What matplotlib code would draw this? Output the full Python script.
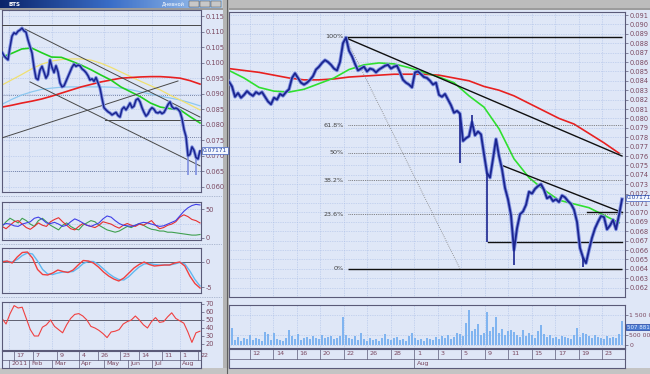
import numpy as np
import matplotlib
matplotlib.use("Agg")
import matplotlib.pyplot as plt
from matplotlib.patches import Rectangle

W, H = 650, 374

# ---------------- data: left window (daily, 2011) ----------------
left_close = [
    0.1034, 0.1022, 0.1015, 0.1009, 0.1050, 0.1085, 0.1096, 0.1092, 0.1101, 0.1105,
    0.1111, 0.1102, 0.1098, 0.1073, 0.1052, 0.1031, 0.0985, 0.0950, 0.0945, 0.0976,
    0.0988, 0.0970, 0.0950, 0.0962, 0.1009, 0.0985, 0.0968, 0.0990, 0.0970, 0.0935,
    0.0922, 0.0925, 0.0940, 0.0955, 0.0970, 0.0985, 0.0995, 0.0988, 0.0992, 0.0990,
    0.0980, 0.0975, 0.0968, 0.0958, 0.0944, 0.0948, 0.0940, 0.0952, 0.0935, 0.0918,
    0.0885, 0.0855, 0.0848, 0.0842, 0.0838, 0.0832, 0.0836, 0.0840, 0.0830, 0.0825,
    0.0850, 0.0857, 0.0848, 0.0858, 0.0870, 0.0855, 0.0860, 0.0880, 0.0884, 0.0874,
    0.0855, 0.0840, 0.0828, 0.0835, 0.0848, 0.0855, 0.0850, 0.0840, 0.0838, 0.0842,
    0.0836, 0.0840, 0.0852, 0.0865, 0.0874, 0.0858, 0.0852, 0.0854, 0.0850, 0.0842,
    0.0820, 0.0785, 0.0762, 0.0700, 0.0705, 0.0729, 0.0718, 0.0695, 0.0690, 0.0717,
]
left_spike_idx = [93, 97]
left_spike_low = [0.0640, 0.0640]
left_ma_green = [0.1018, 0.1030, 0.1044, 0.1047, 0.1032, 0.1018, 0.1017, 0.1005, 0.0992, 0.0977,
                 0.0960, 0.0944, 0.0922, 0.0906, 0.0890, 0.0870, 0.0857, 0.0852, 0.0848, 0.0826, 0.0806]
left_ma_red = [0.0857, 0.0863, 0.0870, 0.0876, 0.0883, 0.0892, 0.0902, 0.0912, 0.0922, 0.0930,
               0.0938, 0.0944, 0.0950, 0.0952, 0.0954, 0.0955, 0.0955, 0.0953, 0.0950, 0.0942, 0.0931]
left_ma_yellow = [0.0928, 0.0945, 0.0962, 0.0980, 0.0995, 0.1005, 0.1010, 0.1012, 0.1012, 0.1008,
                  0.0998, 0.0985, 0.0970, 0.0955, 0.0940, 0.0926, 0.0912, 0.0895, 0.0880, 0.0864, 0.0848]
left_ma_cyan = [0.0866, 0.0882, 0.0896, 0.0906, 0.0914, 0.0918, 0.0921, 0.0922, 0.0922, 0.0922,
                0.0922, 0.0921, 0.0918, 0.0913, 0.0906, 0.0899, 0.0892, 0.0886, 0.0880, 0.0871, 0.0861]
left_yticks = [0.060, 0.065, 0.070, 0.075, 0.080, 0.085, 0.090, 0.095, 0.100, 0.105, 0.110, 0.115]

adx_blue = [22, 25, 24, 21, 20, 24, 26, 28, 34, 36, 32, 26, 25, 27, 24, 20, 22, 28, 33, 30,
            26, 22, 20, 23, 26, 33, 38, 36, 30, 25, 22, 21, 20, 22, 25, 27, 26, 24, 22, 20,
            21, 24, 27, 30, 38, 46, 52, 56, 58, 57]
adx_red = [20, 16, 22, 28, 30, 24, 18, 15, 20, 26, 22, 20, 28, 32, 35, 28, 22, 16, 14, 20,
           25, 22, 20, 18, 22, 28, 26, 24, 20, 17, 22, 25, 22, 20, 24, 22, 26, 30, 22, 16,
           18, 22, 24, 28, 36, 40, 37, 32, 30, 26]
adx_green = [20, 28, 34, 30, 26, 34, 30, 24, 20, 30, 34, 28, 22, 18, 14, 22, 26, 20, 16, 14,
             22, 26, 30, 28, 22, 18, 14, 12, 10, 12, 16, 20, 18, 22, 25, 22, 18, 15, 14, 12,
             12, 10, 10, 9, 8, 7, 6, 5, 5, 6]
macd_red = [0.0, 0.2, -0.2, 1.0, 1.9, 2.0, 0.8, -1.5, -2.5, -2.6, -2.2, -1.6, -1.9, -2.1, -1.6,
            -0.6, 0.3, 0.2, -0.2, -1.0, -2.0, -2.8, -3.4, -3.8, -3.2, -2.2, -1.2, -0.5, 0.0, -0.5,
            -0.8, -0.7, -0.6, -0.6, -0.2, 0.0, -0.8, -2.8, -4.3, -5.2]
macd_blue = [0.2, 0.1, 0.0, 0.5, 1.3, 1.8, 1.6, 0.2, -1.5, -2.4, -2.5, -2.2, -2.0, -2.0, -1.9,
             -1.2, -0.3, 0.1, 0.1, -0.5, -1.4, -2.3, -3.0, -3.5, -3.6, -2.9, -1.9, -1.0, -0.4, -0.3,
             -0.5, -0.6, -0.6, -0.6, -0.4, -0.1, -0.4, -1.8, -3.5, -4.8]
rsi = [52, 45, 58, 68, 65, 66, 52, 38, 30, 30, 41, 44, 50, 42, 38, 34, 44, 52, 57, 58,
       55, 50, 42, 40, 37, 33, 28, 35, 36, 38, 45, 48, 50, 55, 50, 44, 40, 48, 53, 47,
       48, 54, 59, 52, 49, 46, 35, 22, 34, 36]
left_day_labels = ["17", "7", "9", "4", "26", "23", "14", "11", "1", "22"]
left_month_labels = ["2011", "Feb", "Mar", "Apr", "May", "Jun", "Jul", "Aug"]

# ---------------- data: right window (intraday, Jul-Aug) ----------------
right_close = [
    0.0839, 0.0834, 0.0823, 0.0827, 0.0822, 0.0825, 0.0829, 0.0826, 0.0824, 0.0828,
    0.0826, 0.0828, 0.0823, 0.0818, 0.0815, 0.0822, 0.0820, 0.0826, 0.0824, 0.0828,
    0.0831, 0.0843, 0.0848, 0.0843, 0.0838, 0.0836, 0.0838, 0.0841, 0.0845, 0.0852,
    0.0855, 0.0859, 0.0862, 0.0860, 0.0857, 0.0853, 0.0851, 0.0860, 0.0880, 0.0886,
    0.0872, 0.0866, 0.0858, 0.0851, 0.0853, 0.0855, 0.0850, 0.0853, 0.0852, 0.0849,
    0.0852, 0.0854, 0.0856, 0.0857, 0.0853, 0.0855, 0.0856, 0.0849, 0.0841, 0.0838,
    0.0836, 0.0833, 0.0849, 0.0850, 0.0847, 0.0844, 0.0843, 0.0840, 0.0836, 0.0838,
    0.0825, 0.0823, 0.0826, 0.0820, 0.0814, 0.0806, 0.0808, 0.0805, 0.0776, 0.0779,
    0.0781, 0.0796, 0.0782, 0.0786, 0.0783, 0.0762, 0.0742, 0.0737, 0.0757, 0.0778,
    0.0760, 0.0746, 0.0726, 0.0714, 0.0697, 0.0660, 0.0683, 0.0698, 0.0701, 0.0708,
    0.0722, 0.0720, 0.0725, 0.0728, 0.0730, 0.0724, 0.0715, 0.0717, 0.0712, 0.0714,
    0.0711, 0.0718, 0.0716, 0.0712, 0.0709, 0.0703, 0.0690, 0.0662, 0.0652, 0.0646,
    0.0660, 0.0673, 0.0683, 0.0690, 0.0696, 0.0695, 0.0682, 0.0686, 0.0692, 0.0682,
    0.0697, 0.0714,
]
right_spike_idx = [77, 81, 86, 95, 118]
right_spike_val = [0.0753, 0.0804, 0.0669, 0.0644, 0.0642]
right_ma_green = [0.0851, 0.0843, 0.0833, 0.0829, 0.0828, 0.0831, 0.0837, 0.0843, 0.0852, 0.0857,
                  0.0859, 0.0858, 0.0854, 0.0849, 0.0844, 0.0838, 0.0824, 0.0812, 0.0789, 0.0757,
                  0.0737, 0.0724, 0.0713, 0.0709, 0.0705, 0.0697, 0.0689]
right_ma_red = [0.0853, 0.0851, 0.0849, 0.0846, 0.0843, 0.0841, 0.0841, 0.0842, 0.0844, 0.0845,
                0.0846, 0.0847, 0.0847, 0.0847, 0.0846, 0.0843, 0.0840, 0.0834, 0.0830, 0.0824,
                0.0816, 0.0808, 0.0800, 0.0794, 0.0784, 0.0774, 0.0763]
right_volume_k = [
    300, 850, 250, 400, 200, 350, 300, 500, 250, 350,
    300, 200, 650, 550, 250, 600, 300, 250, 200, 350,
    750, 450, 300, 550, 250, 350, 400, 300, 450, 350,
    300, 500, 350, 400, 450, 300, 350, 450, 1400, 500,
    350, 300, 450, 250, 600, 300, 200, 350, 250, 300,
    200, 350, 550, 300, 250, 350, 400, 250, 300, 200,
    450, 600, 350, 250, 300, 200, 350, 300, 250, 400,
    300, 450, 350, 500, 300, 400, 600, 550, 450, 1100,
    1750, 700, 800, 1050, 500, 600, 1650, 700, 900, 1400,
    600, 800, 500, 700, 750, 650, 500, 400, 750, 450,
    600, 500, 350, 700, 1000, 550, 400, 500, 350, 400,
    300, 450, 400, 350, 300, 500, 850, 400, 600, 550,
    450, 350, 500, 400, 350, 300, 450, 350, 400, 350, 550, 1200,
]
right_day_labels = ["12", "14", "16", "20", "22", "26", "28", "1", "3", "5",
                    "9", "11", "15", "17", "19", "23"]
right_month_label = "Aug"
fib_high = 0.0887
fib_low = 0.0640
fib_ratios = [1.0, 0.618, 0.5, 0.382, 0.236, 0.0]
fib_texts = ["100%", "61.8%", "50%", "38.2%", "23.6%", "0%"]
last_price_text = "0.07171"
last_volume_text = "507 881"
vol_tick_vals = [0, 500000, 1500000]
vol_tick_texts = ["0", "500 000", "1 500 000"]

# ---------------- styling ----------------
BG = "#dfe7f7"
FRAME = "#5a5a78"
GRID = "#a9bde6"
LBL = "#7a4860"
PRICE_DARK = "#1b2590"
PRICE_LIGHT = "#7f90e0"

plt.rcParams["font.family"] = ["DejaVu Sans"]
fig = plt.figure(figsize=(W / 100, H / 100), dpi=100)
fig.patch.set_facecolor("#c8c8c8")


def rect_px(x0, y0, x1, y1, color, z=-5, ec="none", lw=0.0):
    fig.add_artist(Rectangle((x0 / W, 1 - y1 / H), (x1 - x0) / W, (y1 - y0) / H,
                             transform=fig.transFigure, facecolor=color,
                             edgecolor=ec, linewidth=lw, zorder=z))


def px_axes(x0, y0, x1, y1):
    ax = fig.add_axes([x0 / W, 1 - y1 / H, (x1 - x0) / W, (y1 - y0) / H])
    ax.set_facecolor(BG)
    for s in ax.spines.values():
        s.set_color(FRAME)
        s.set_linewidth(0.8)
    ax.tick_params(axis="x", bottom=False, labelbottom=False)
    return ax


def right_ticks(ax, ticks, labels, size=4.8):
    ax.yaxis.tick_right()
    ax.set_yticks(ticks)
    ax.set_yticklabels(labels)
    ax.tick_params(axis="y", direction="out", length=2, width=0.5, pad=1.2,
                   labelsize=size, labelcolor=LBL, color=FRAME)


# window backgrounds
rect_px(0, 8, 223, 368, BG)
rect_px(229, 8, 650, 368, BG)
rect_px(223, 0, 229, 374, "#b4b4b4")
fig.add_artist(plt.Line2D([227 / W, 227 / W], [0, 1], transform=fig.transFigure,
                          color="#606060", lw=0.8, zorder=-4))
rect_px(0, 368, 650, 374, "#c4c4c4")

# title bars
tb = fig.add_axes([0, 1 - 8 / H, 222 / W, 8 / H])
tb.imshow(np.linspace(0, 1, 200)[None, :], aspect="auto",
          cmap=matplotlib.colors.LinearSegmentedColormap.from_list("t", ["#0a246a", "#3a6ec8", "#a6caf0"]),
          extent=(0, 1, 0, 1))
tb.set_axis_off()
tb.text(0.04, 0.5, "BTS", color="white", fontsize=4, va="center", ha="left", fontweight="bold")
tb.text(0.83, 0.5, "Дневной", color="white", fontsize=3.6, va="center", ha="right")
for k in range(3):
    tb.add_patch(Rectangle((0.85 + k * 0.05, 0.12), 0.045, 0.76, fc="#c8c8c8", ec="#404040", lw=0.3))
rect_px(229, 0, 650, 8, "#bcbcbc", z=-4)
rect_px(229, 8, 650, 10, "#9c9c9c", z=-4)
rect_px(0, 8, 223, 10, "#9c9c9c", z=-4)

# ================= LEFT WINDOW =================
n_left = len(left_close)
xl = np.arange(n_left)
ax_l = px_axes(2, 10, 201, 192)
ax_l.set_xlim(0, 99.5)
ax_l.set_ylim(0.05839, 0.11693)
right_ticks(ax_l, left_yticks, [f"{v:.3f}" for v in left_yticks])
left_day_sep = [6, 15.5, 27.5, 38.5, 48, 59, 68.5, 80, 89, 98]
left_month_sep = [3.5, 13.5, 25, 38.5, 51, 63, 75, 89]
for v in left_yticks:
    ax_l.axhline(v, color=GRID, lw=0.5, ls=(0, (1, 1.5)), zorder=0)
for s in left_month_sep:
    ax_l.axvline(s, color=GRID, lw=0.5, ls=(0, (1, 1.5)), zorder=0)
for v in [0.0896, 0.0761, 0.0652]:
    ax_l.axhline(v, color="#5a6890", lw=0.6, ls=(0, (1, 1.5)), zorder=1)
xm = np.linspace(0, n_left - 1, len(left_ma_red))
ax_l.plot(xm, left_ma_cyan, color="#8cc8f0", lw=0.9, zorder=2)
ax_l.plot(xm, left_ma_yellow, color="#f0e070", lw=0.9, zorder=2)
ax_l.plot(xm, left_ma_red, color="#e82020", lw=1.2, zorder=2)
ax_l.plot(xm, left_ma_green, color="#20d020", lw=1.2, zorder=2)
# trend lines
for (a, b, c, d) in [(0, 0.1121, 99.5, 0.1121), (11.5, 0.1108, 99, 0.0825),
                     (14, 0.0938, 99, 0.0668), (0, 0.0758, 88, 0.0941),
                     (51.5, 0.0816, 99.5, 0.0816)]:
    ax_l.plot([a, c], [b, d], color="#484848", lw=0.7, zorder=3)
ax_l.plot(xl, left_close, color=PRICE_LIGHT, lw=2.4, zorder=4, solid_capstyle="butt")
ax_l.plot(xl, left_close, color=PRICE_DARK, lw=1.1, zorder=5)
ax_l.vlines(left_spike_idx, left_spike_low, [left_close[i] for i in left_spike_idx],
            color=PRICE_LIGHT, lw=1.2, zorder=4)
ax_l.text(1.01, left_close[-1], last_price_text, transform=ax_l.get_yaxis_transform(),
          fontsize=4.2, color="#2040a0", va="center", ha="left", clip_on=False, zorder=6,
          bbox=dict(boxstyle="square,pad=0.12", fc="#f4f8ff", ec="#4060c0", lw=0.5))

# ADX panel
ax_p1 = px_axes(2, 202, 201, 240)
ax_p1.set_xlim(0, 99.5)
ax_p1.set_ylim(-3.45, 62.1)
right_ticks(ax_p1, [0, 50], ["0", "50"])
xa = np.linspace(0, n_left - 1, len(adx_blue))
for v in [0, 25, 50]:
    ax_p1.axhline(v, color=GRID, lw=0.5, ls=(0, (1, 1.5)), zorder=0)
for s in left_month_sep:
    ax_p1.axvline(s, color=GRID, lw=0.5, ls=(0, (1, 1.5)), zorder=0)
ax_p1.plot(xa, adx_green, color="#40a050", lw=0.8)
ax_p1.plot(xa, adx_red, color="#e83030", lw=0.8)
ax_p1.plot(xa, adx_blue, color="#4040e8", lw=0.8)

# MACD panel
ax_p2 = px_axes(2, 248, 201, 293)
ax_p2.set_xlim(0, 99.5)
ax_p2.set_ylim(-6.2, 2.8)
right_ticks(ax_p2, [-5, 0], ["-5", "0"])
xmcd = np.linspace(0, n_left - 1, len(macd_red))
for s in left_month_sep:
    ax_p2.axvline(s, color=GRID, lw=0.5, ls=(0, (1, 1.5)), zorder=0)
ax_p2.axhline(0, color="#606070", lw=0.7, zorder=1)
ax_p2.plot(xmcd, macd_blue, color="#60b8f0", lw=1.0)
ax_p2.plot(xmcd, macd_red, color="#f04040", lw=1.0)

# RSI panel
ax_p3 = px_axes(2, 302, 201, 350)
ax_p3.set_xlim(0, 99.5)
ax_p3.set_ylim(12.5, 72.5)
rt = [20, 30, 40, 50, 60, 70]
right_ticks(ax_p3, rt, [str(v) for v in rt])
xr = np.linspace(0, n_left - 1, len(rsi))
for s in left_month_sep:
    ax_p3.axvline(s, color=GRID, lw=0.5, ls=(0, (1, 1.5)), zorder=0)
ax_p3.axhline(50, color="#606070", lw=0.7, zorder=1)
ax_p3.plot(xr, rsi, color="#f04040", lw=0.8)

# separators between left panels
for yy in [196, 244, 297]:
    fig.add_artist(plt.Line2D([0, 222 / W], [1 - yy / H] * 2, transform=fig.transFigure,
                              color="#8090b0", lw=0.5, ls=(0, (1, 1.5)), zorder=-3))

# left date axis
ax_ld = px_axes(2, 351, 201, 368)
ax_ld.set_xlim(0, 99.5)
ax_ld.set_ylim(0, 2)
ax_ld.set_yticks([])
ax_ld.axhline(1, color=FRAME, lw=0.5)
for s, t in zip(left_day_sep, left_day_labels):
    ax_ld.plot([s, s], [1, 2], color=FRAME, lw=0.5)
    ax_ld.text(s + 1.2, 1.5, t, fontsize=4.6, color=LBL, va="center", ha="left")
for s, t in zip(left_month_sep, left_month_labels):
    ax_ld.plot([s, s], [0, 1], color=FRAME, lw=0.5)
    ax_ld.text(s + 1.2, 0.5, t, fontsize=4.6, color=LBL, va="center", ha="left")

# ================= RIGHT WINDOW =================
n_right = len(right_close)
xr_idx = np.arange(n_right)
sep_r = [7 + 7.833 * k for k in range(len(right_day_labels))]
ax_r = px_axes(229, 12, 625, 297)
ax_r.set_xlim(0, 132)
ax_r.set_ylim(0.0610, 0.09132)
ryt = [round(0.062 + 0.001 * k, 3) for k in range(30)]
right_ticks(ax_r, ryt, [f"{v:.3f}" for v in ryt])
for v in ryt:
    ax_r.axhline(v, color=GRID, lw=0.5, ls=(0, (1, 1.5)), zorder=0)
for s in sep_r:
    ax_r.axvline(s, color=GRID, lw=0.5, ls=(0, (1, 1.5)), zorder=0)

xma = np.arange(len(right_ma_green)) * 5
ax_r.plot(xma, right_ma_red, color="#e82020", lw=1.2, zorder=2)
ax_r.plot(xma, right_ma_green, color="#30e030", lw=1.2, zorder=2)

# fibonacci
fib_levels = [fib_low + r * (fib_high - fib_low) for r in fib_ratios]
for r, lv, t in zip(fib_ratios, fib_levels, fib_texts):
    if r in (0.0, 1.0):
        ax_r.hlines(lv, 39.5 if r == 0 else 38.7, 131, color="#101010", lw=1.0, zorder=3)
    else:
        ax_r.hlines(lv, 39.7, 131, color="#606060", lw=0.6, ls=(0, (1, 1.2)), zorder=3)
    ax_r.text(38.3, lv, t, fontsize=4.6, color="#404040", ha="right", va="center", zorder=6)
ax_r.plot([38.7, 77], [fib_high, fib_low], color="#808080", lw=0.6, ls=(0, (1, 1.5)), zorder=3)
# trend lines
for (a, b, c, d) in [(38.7, 0.0886, 131, 0.0760), (91, 0.0750, 131, 0.0700),
                     (119.3, 0.0700, 131, 0.0700), (86.3, 0.0669, 131, 0.0669)]:
    ax_r.plot([a, c], [b, d], color="#101010", lw=1.0, zorder=3)

ax_r.plot(xr_idx, right_close, color=PRICE_LIGHT, lw=2.6, zorder=4)
ax_r.plot(xr_idx, right_close, color=PRICE_DARK, lw=1.3, zorder=5)
ax_r.vlines(right_spike_idx, right_spike_val, [right_close[i] for i in right_spike_idx],
            color=PRICE_DARK, lw=1.2, zorder=5)
ax_r.text(1.004, right_close[-1] + 0.00015, last_price_text, transform=ax_r.get_yaxis_transform(),
          fontsize=4.2, color="#2040a0", va="center", ha="left", clip_on=False, zorder=6,
          bbox=dict(boxstyle="square,pad=0.12", fc="#f4f8ff", ec="#4060c0", lw=0.5))

# volume panel
ax_v = px_axes(229, 305, 625, 348)
ax_v.set_xlim(0, 132)
ax_v.set_ylim(-150000, 2000000)
right_ticks(ax_v, vol_tick_vals, vol_tick_texts, size=4.4)
for v in vol_tick_vals:
    ax_v.axhline(v, color=GRID, lw=0.5, ls=(0, (1, 1.5)), zorder=0)
for s in sep_r:
    ax_v.axvline(s, color=GRID, lw=0.5, ls=(0, (1, 1.5)), zorder=0)
ax_v.bar(xr_idx, np.array(right_volume_k) * 1000, width=0.7, color="#80b4f0", zorder=2)
ax_v.text(1.004, 880000, last_volume_text, transform=ax_v.get_yaxis_transform(),
          fontsize=4.0, color="#e8f0ff", va="center", ha="left", clip_on=False, zorder=6,
          bbox=dict(boxstyle="square,pad=0.1", fc="#4a7ad0", ec="#2040a0", lw=0.5))

# right date axis
ax_rd = px_axes(229, 349, 625, 368)
ax_rd.set_xlim(0, 132)
ax_rd.set_ylim(0, 2)
ax_rd.set_yticks([])
ax_rd.axhline(1, color=FRAME, lw=0.5)
for s, t in zip(sep_r, right_day_labels):
    ax_rd.plot([s, s], [1, 2], color=FRAME, lw=0.5)
    ax_rd.text(s + 0.8, 1.5, t, fontsize=4.6, color=LBL, va="center", ha="left")
aug_pos = sep_r[right_day_labels.index("1")]
ax_rd.plot([aug_pos, aug_pos], [0, 1], color=FRAME, lw=0.5)
ax_rd.text(aug_pos + 0.8, 0.5, right_month_label, fontsize=4.6, color=LBL, va="center", ha="left")

fig.savefig("out.png", dpi=100, facecolor=fig.get_facecolor())
